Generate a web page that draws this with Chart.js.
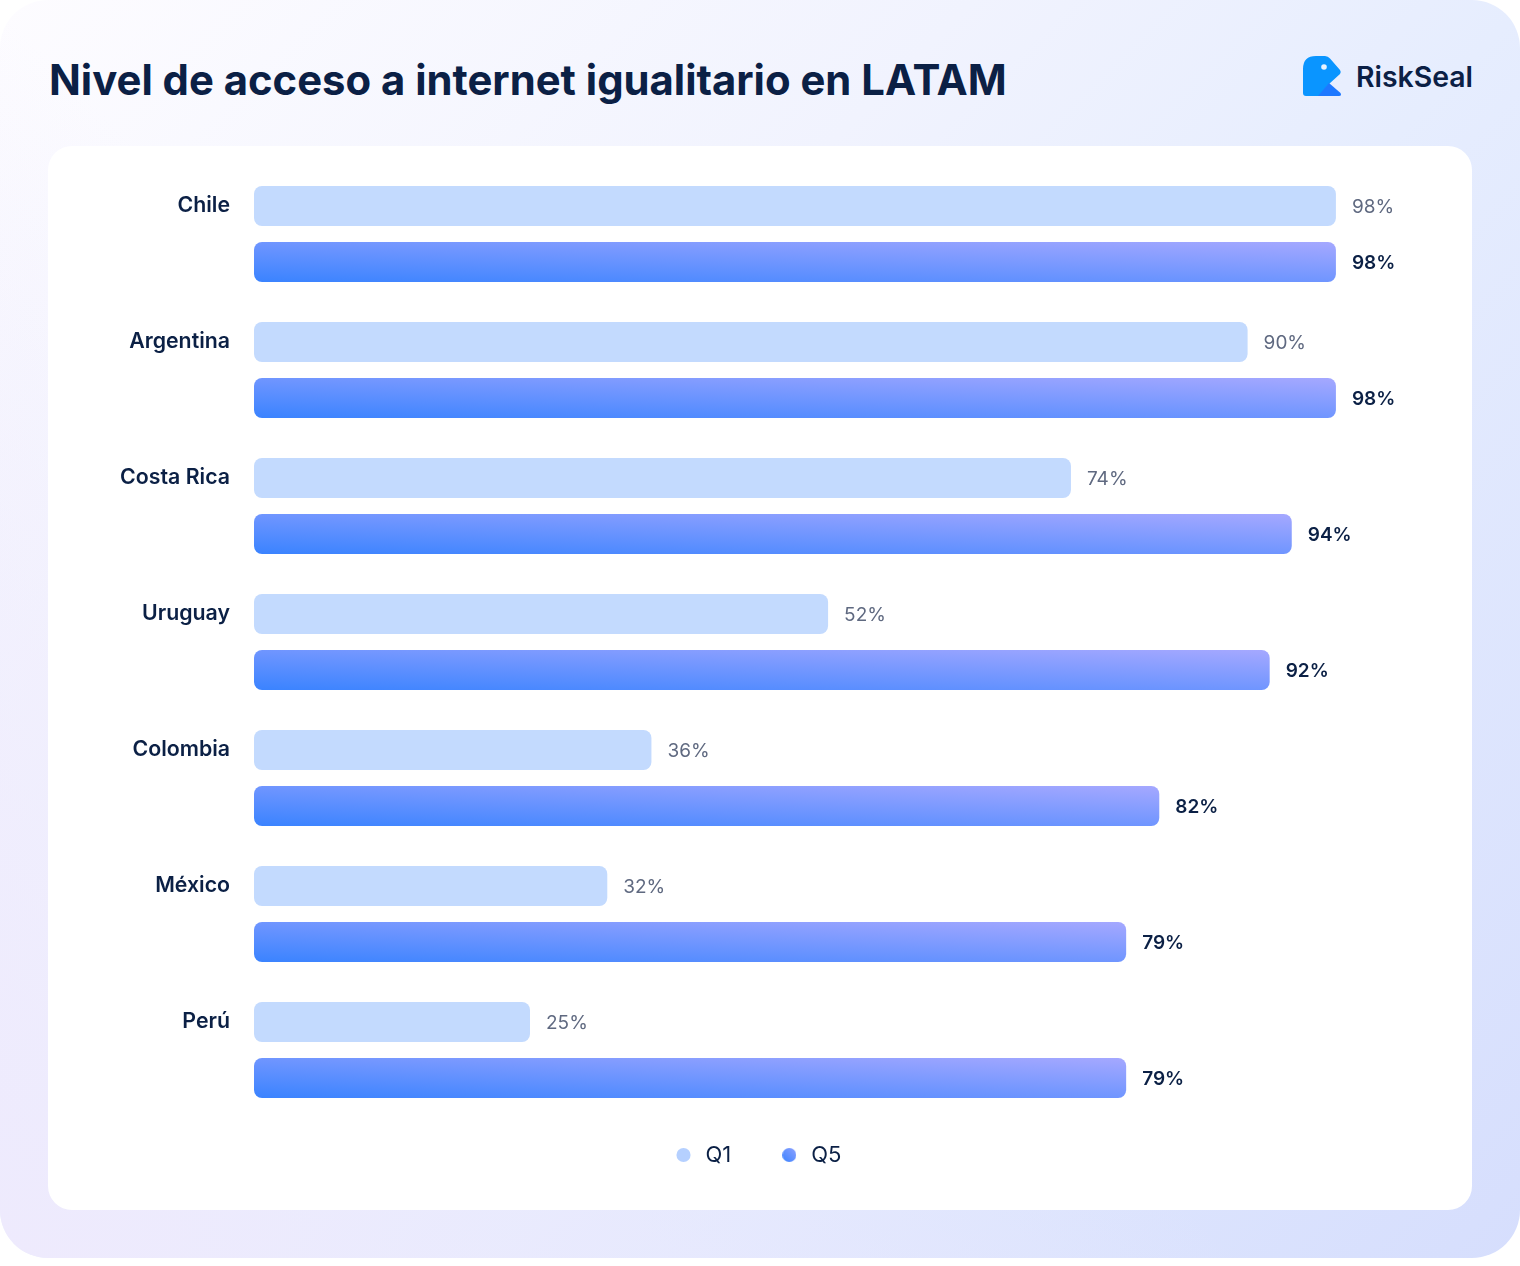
<!DOCTYPE html>
<html lang="es">
<head>
<meta charset="utf-8">
<title>Nivel de acceso a internet igualitario en LATAM</title>
<script src="https://cdn.jsdelivr.net/npm/chart.js@4"></script>
<style>
  html, body { margin: 0; padding: 0; background: #fff; }
  body { width: 1520px; height: 1266px; position: relative; overflow: hidden; font-family: Inter, sans-serif; }
  .panel {
    position: absolute; left: 0; top: 0; width: 1520px; height: 1258px; border-radius: 48px;
    background: linear-gradient(135deg, #fdfcff 0%, #f1f3fe 35%, #e6edfe 55%, #d6defd 100%);
  }
  .panel::before {
    content: ""; position: absolute; inset: 0; border-radius: 48px;
    background: linear-gradient(45deg, #eeeafd 0%, rgba(238,234,253,0) 45%);
  }
  h1 {
    position: absolute; left: 49px; top: 53px; margin: 0;
    font-size: 41.8px; line-height: 54px; font-weight: 700; color: #0b2045; white-space: nowrap;
  }
  .logo { position: absolute; left: 1303px; top: 56px; }
  .brand {
    position: absolute; left: 1356px; top: 59px;
    font-size: 28.4px; line-height: 36px; font-weight: 600; color: #0b2045;
  }
  .card {
    position: absolute; left: 48px; top: 146px; width: 1424px; height: 1064px;
    background: #fff; border-radius: 24px;
  }
  canvas { display: block; }
</style>
</head>
<body>
<div class="panel">
  <h1>Nivel de acceso a internet igualitario en LATAM</h1>
  <svg class="logo" width="39" height="40" viewBox="0 0 39 40">
    <path d="M13 0H22Q25 0 27 2.5L37 14Q38.5 16 37 18L26 28L16 40H3Q0 40 0 37V13Q0 0 13 0Z" fill="#0a95ff"/>
    <path d="M26 27L37.5 37Q39 40 36 40H15Z" fill="#1e78ff"/>
    <circle cx="21" cy="11" r="2.8" fill="#e8f3ff"/>
  </svg>
  <div class="brand">RiskSeal</div>
  <div class="card"><canvas id="chart" width="1424" height="1064"></canvas></div>
</div>
<script>
const categories = ["Chile", "Argentina", "Costa Rica", "Uruguay", "Colombia", "México", "Perú"];
const q1Values = [98, 90, 74, 52, 36, 32, 25];
const q5Values = [98, 98, 94, 92, 82, 79, 79];

// Q5 bars run from bottom left to top right, half of the change is across the bar height
function q5Gradient(context) {
  const chart = context.chart;
  const xs = chart.scales.x;
  const ys = chart.scales.y;
  if (!xs || !ys || context.dataIndex === undefined) return "#6f95ff";
  const left = xs.getPixelForValue(0);
  const w = xs.getPixelForValue(q5Values[context.dataIndex]) - left;
  const bottom = ys.getPixelForValue(context.dataIndex) + 48;
  if (!isFinite(w) || !isFinite(bottom)) return "#6f95ff";
  const h = 40;
  const gx = 0.5 / w;
  const gy = 0.5 / h;
  const len = gx * gx + gy * gy;
  const g = chart.ctx.createLinearGradient(left, bottom, left + gx / len, bottom - gy / len);
  g.addColorStop(0, "#3a83ff");
  g.addColorStop(1, "#a5a8ff");
  return g;
}

function q5Dot() {
  const c = document.createElement("canvas");
  c.width = 14; c.height = 14;
  const x = c.getContext("2d");
  const g = x.createLinearGradient(0, 14, 14, 0);
  g.addColorStop(0, "#3a83ff");
  g.addColorStop(1, "#8ea2ff");
  x.fillStyle = g;
  x.beginPath(); x.arc(7, 7, 7, 0, Math.PI * 2); x.fill();
  return c;
}

const valueLabels = {
  id: "valueLabels",
  afterDatasetsDraw(chart) {
    const ctx = chart.ctx;
    ctx.save();
    ctx.textAlign = "left";
    ctx.textBaseline = "middle";
    chart.data.datasets.forEach((ds, i) => {
      ctx.font = i === 0 ? "400 19px Inter" : "600 19px Inter";
      ctx.fillStyle = i === 0 ? "#5f6980" : "#0b2045";
      chart.getDatasetMeta(i).data.forEach((bar, j) => {
        ctx.fillText(ds.data[j] + "%", bar.x + 16, bar.y + 1);
      });
    });
    ctx.restore();
  },
};

// the legend sits closer to the bars than its own padding allows, and is centred on the card
const legendShift = {
  id: "legendShift",
  afterLayout(chart) {
    chart.legend.top -= 21;
    chart.legend.bottom -= 21;
    chart.legend.left += 54;
    chart.legend.right += 54;
  },
};

new Chart(document.getElementById("chart"), {
  type: "bar",
  data: {
    labels: categories,
    datasets: [
      { label: "Q1", data: q1Values, backgroundColor: "#c3dafe" },
      { label: "Q5", data: q5Values, backgroundColor: q5Gradient },
    ],
  },
  plugins: [valueLabels, legendShift],
  options: {
    indexAxis: "y",
    responsive: false,
    animation: false,
    devicePixelRatio: 1,
    categoryPercentage: 112 / 136,
    barPercentage: 40 / 56,
    layout: { padding: { top: 20, right: 114, bottom: 13 } },
    datasets: { bar: { borderRadius: 8, borderSkipped: false, inflateAmount: 0 } },
    scales: {
      x: { display: false, min: 0, max: 100 },
      y: {
        afterFit(scale) {
          scale.width = 206;
          // tick padding would otherwise push the chart area down
          scale.paddingTop = 0;
          scale.paddingBottom = 0;
        },
        grid: { display: false, drawTicks: false },
        border: { display: false },
        ticks: {
          padding: 24,
          labelOffset: -28,
          color: "#0b2045",
          font: { family: "Inter", size: 21.3, weight: "600" },
        },
      },
    },
    plugins: {
      tooltip: { enabled: false },
      legend: {
        position: "bottom",
        labels: {
          usePointStyle: true,
          boxWidth: 24,
          boxHeight: 10,
          padding: 47,
          color: "#0b2045",
          font: { family: "Inter", size: 22, weight: "400" },
          generateLabels() {
            return [
              { text: "Q1", fillStyle: "#b5d0ff", strokeStyle: "#b5d0ff", lineWidth: 0, pointStyle: "circle", fontColor: "#0b2045", datasetIndex: 0 },
              { text: "Q5", pointStyle: q5Dot(), lineWidth: 0, fontColor: "#0b2045", datasetIndex: 1 },
            ];
          },
        },
      },
    },
  },
});
</script>
</body>
</html>
